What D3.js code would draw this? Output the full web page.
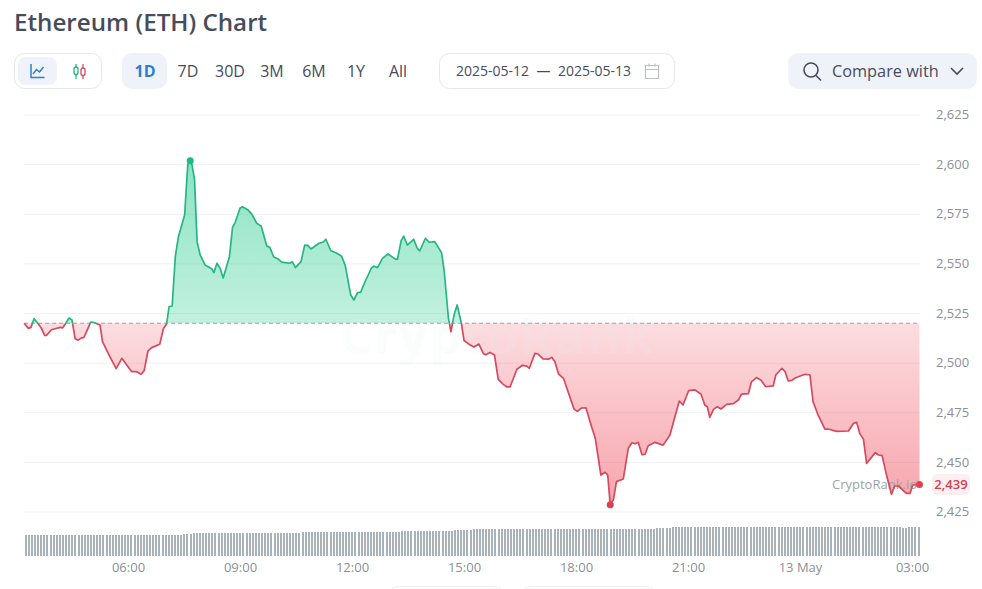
<!DOCTYPE html>
<html><head><meta charset="utf-8">
<style>
html,body{margin:0;padding:0;background:#fff;overflow:hidden}
svg{display:block}
text{font-family:"Open Sans","Noto Sans",sans-serif}
.axis path,.axis line{display:none}
</style>
<script src="https://cdn.jsdelivr.net/npm/d3@7"></script>
</head><body><div id="chart"></div>
<script>
const title="Ethereum (ETH) Chart";
const ranges=["1D","7D","30D","3M","6M","1Y","All"];
const dateFrom="2025-05-12", dateTo="2025-05-13";
const compareLabel="Compare with";
const yTicks=[2425,2450,2475,2500,2525,2550,2575,2600,2625];
const xTickMinutes=[360,540,720,900,1080,1260,1440,1620];
const xTickLabels=["06:00","09:00","12:00","15:00","18:00","21:00","13 May","03:00"];
const basePrice=2520.1, lastPrice=2438.8, lastLabel="2,439";
const maxPoint=[460,2602], minPoint=[1135,2428.7];
// minutes since 2025-05-12 00:00
const minutes=[193,200,204,209,216,221,226,229,237,243,251,255,260,265,270,275,280,285,289,295,300,305,315,319,331,341,350,366,374,381,386,392,398,411,417,422,426,431,436,441,451,456,460,463,467,471,476,484,495,498,503,508,513,523,528,532,540,544,553,559,567,574,583,588,594,602,607,620,624,629,638,644,649,654,667,674,678,686,694,703,709,718,723,729,734,741,751,755,761,769,778,789,793,799,803,809,819,825,829,838,844,853,864,868,875,879,884,889,896,900,910,916,924,931,935,942,949,955,963,969,974,985,994,1001,1005,1014,1019,1027,1036,1041,1046,1052,1060,1070,1077,1082,1089,1096,1105,1111,1120,1127,1131,1135,1140,1145,1156,1164,1170,1175,1180,1186,1191,1196,1207,1220,1231,1239,1246,1252,1261,1271,1281,1287,1291,1295,1301,1307,1313,1322,1333,1341,1346,1357,1362,1370,1377,1385,1397,1401,1411,1416,1421,1427,1432,1448,1456,1461,1469,1480,1485,1499,1518,1526,1531,1536,1542,1547,1561,1566,1572,1579,1587,1592,1598,1611,1617,1621,1632];
const prices=[2520.1,2517.5,2518,2522.4,2519.7,2517.5,2514,2514,2516.8,2517.3,2518,2517.8,2520.1,2522.7,2521.7,2512.3,2511.6,2512.7,2512.8,2517,2520.7,2520.5,2519.2,2510.8,2503.2,2497.2,2502.4,2495.7,2495.7,2494.4,2496.2,2506,2507.8,2509.5,2517.5,2519.7,2528.4,2528.8,2553.6,2563.7,2574.6,2599.8,2602,2599.8,2592.3,2561.2,2554.5,2549.4,2547.4,2545.6,2550.3,2547.8,2542.9,2553.6,2568.4,2570.7,2578,2578.8,2577.1,2575.1,2570.4,2569.1,2559,2558.3,2553.6,2552.3,2550.9,2550.3,2551.1,2548.1,2551.1,2559.4,2559.3,2557.5,2560.4,2561,2562.4,2556.6,2555.6,2554,2549.4,2534.3,2531.8,2535.5,2535.8,2541,2547.8,2548.9,2548.1,2552.8,2555,2552.5,2552.3,2561.7,2564,2559.5,2562.4,2557.8,2556.6,2562.9,2560.9,2561.2,2555.6,2546.9,2522.6,2515.8,2524.2,2529.3,2519.7,2511.4,2509.1,2508.1,2509.6,2504.9,2504.2,2505.4,2504.1,2491.8,2489.3,2488,2488,2496.9,2498.9,2498.5,2497.4,2504.9,2504.6,2502.1,2502,2502.9,2500.7,2494.5,2492.3,2483.1,2476.7,2475.7,2477.4,2477.5,2468,2462.1,2443.6,2445,2443.6,2428.7,2431,2440.3,2441.6,2457.1,2459.9,2459.4,2460.1,2453.9,2454.1,2458.4,2460.1,2458.7,2463.8,2473,2480.9,2478.9,2486.1,2486.5,2484.3,2478.9,2478,2472.7,2476.7,2478,2476.9,2479.2,2479.6,2481.4,2484.4,2484.6,2490.6,2492.7,2491.5,2488.1,2488.5,2494,2497.4,2495.7,2491.1,2491.3,2492.5,2494.4,2494,2480.6,2473.9,2466.8,2466.8,2465.6,2465.8,2469.7,2470.2,2464.6,2461.6,2449.5,2454.9,2453.7,2453.4,2443.6,2433.9,2438.1,2438.1,2434.4,2434.4,2438.6,2438.8];
// five-minute volume bars
const volumeStart=194, volumeStep=5;
const volumes=[
21.5,21.5,21.5,21.5,21.5,21.5,21.5,21.5,21.5,21.5,21.5,21.5,
21.5,21.5,21.5,21.5,21.5,21.5,21.5,21.5,21.5,21.5,21.5,21.5,
21.5,21.5,21.5,21.5,21.5,21.5,21.5,21.5,21.5,21.5,21.5,21.5,
21.5,21.5,21.5,21.5,21.5,21.5,21.5,21.5,21.5,21.5,21.5,21.5,
21.5,21.5,21.5,22,22.5,22.5,23,23,23.5,23.5,23.5,23.5,
23.5,23.5,23.5,23.5,23.5,23.5,23.5,23.5,23.5,23.5,23.5,23.5,
23.5,23.5,23.5,23.5,23.5,23.5,23.5,23.5,23.5,23.5,23.5,23.5,
23.5,23.5,23.5,23.5,23.5,24,24,24.5,24.5,24.5,24.5,24.5,
24.5,24.5,24.5,24.5,24.5,24.5,24.5,24.5,24.5,24.5,24.5,24.5,
24.5,24.5,24.5,24.5,24.5,24.5,24.5,24.5,24.5,24.5,24.5,24.5,
24.5,25,25,25,25,25,25,25,25,25,25,25,
25.5,25.5,25.5,25.5,25.5,25.5,26.5,26.5,26.5,26.5,26.5,26.5,
27,27.5,27.5,27.5,27.5,27.5,27.5,27.5,27.5,27.5,27.5,27.5,
27.5,27.5,27.5,27.5,27.5,27.5,27.5,27.5,27.5,27.5,27.5,27.5,
27.5,27.5,27.5,27.5,27.5,27.5,27.5,27.5,27.5,27.5,27.5,27.5,
27.5,27.5,27.5,27.5,27.5,27.5,27.5,27.5,27.5,27.5,27.5,27.5,
27.5,27.5,27.5,27.5,27.5,27.5,27.5,27.5,27.5,27.5,27.5,28,
28,28,28,28,29,29,29,29,29,29,29,29,
29,29,29,29,29,29,29,29,29,29,29,29,
29,29,29,29,29,29,29,29,29,29,29,29,
29,29,29,29,29,29,29,29,29,29,29,29,
29,29,29,29,29,29,29,29,29,29,29,29,
29,29,29,29,29,29,29,29,29,29,29,29,
29,29,29,29,29,29,28.5,28.5,29,29,29,29];

const W=982,H=589;
const svg=d3.select("#chart").append("svg").attr("width",W).attr("height",H);
const x=d3.scaleLinear().domain([360,1620]).range([128,912]);
const y=d3.scaleLinear().domain([2425,2625]).range([512,115]);
const v=d3.scaleLinear().domain([0,30]).range([556,526]);
const data=minutes.map((m,i)=>({m,p:prices[i]}));
const ink="#464c5c", blue="#2b80d6", panel="#eff3f9", edge="#e5e7eb";
const green="#27b585", red="#d64a5e";

// ---- header
svg.append("text").attr("x",14).attr("y",31).attr("font-size",24.2).attr("font-weight",600).attr("fill",ink).text(title);
function box(x0,y0,w,h,r,fill,stroke){return svg.append("rect").attr("x",x0).attr("y",y0).attr("width",w).attr("height",h).attr("rx",r).attr("fill",fill).attr("stroke",stroke||"none");}
box(14.5,53.5,87,35,10,"#fff",edge);
box(18,57,39,28,8,panel);
svg.append("path").attr("d","M31 64V77.5H44.5M33 74l3.5-4.5 3 2.5 4-5").attr("fill","none").attr("stroke",blue).attr("stroke-width",1.5);
svg.append("path").attr("d","M76 64V79").attr("stroke","#1fb582").attr("stroke-width",1.3);
svg.append("rect").attr("x",74).attr("y",67).attr("width",4).attr("height",7.5).attr("rx",2).attr("fill","#fff").attr("stroke","#1fb582").attr("stroke-width",1.3);
svg.append("path").attr("d","M83 64V79").attr("stroke",red).attr("stroke-width",1.3);
svg.append("rect").attr("x",81).attr("y",68).attr("width",4).attr("height",7.5).attr("rx",2).attr("fill","#fff").attr("stroke",red).attr("stroke-width",1.3);
box(122,53,45,36,10,panel);
const rangeX=[145,188,230,272,314,356,398];
svg.selectAll(".rng").data(ranges).join("text").attr("class","rng")
 .attr("x",(d,i)=>rangeX[i]).attr("y",77).attr("text-anchor","middle").attr("font-size",16)
 .attr("font-weight",(d,i)=>i?400:700).attr("fill",(d,i)=>i?ink:blue).text(d=>d);
box(439.5,53.5,235,35,10,"#fff",edge);
svg.append("text").attr("x",456).attr("y",76).attr("font-size",14).attr("fill",ink).text(dateFrom);
svg.append("text").attr("x",543.5).attr("y",76).attr("text-anchor","middle").attr("font-size",14).attr("fill",ink).text("—");
svg.append("text").attr("x",558).attr("y",76).attr("font-size",14).attr("fill",ink).text(dateTo);
svg.append("path").attr("d","M645.5 65.5h13v13h-13zM645.5 69.5h13M649 63.5v3M655 63.5v3").attr("fill","none").attr("stroke","#bcc0c6").attr("stroke-width",1.2);
box(788,53,189,36,10,panel);
svg.append("circle").attr("cx",811).attr("cy",70).attr("r",7).attr("fill","none").attr("stroke",ink).attr("stroke-width",1.6);
svg.append("path").attr("d","M816 75.5L821 80.5").attr("stroke",ink).attr("stroke-width",1.6);
svg.append("text").attr("x",832).attr("y",77).attr("font-size",16.3).attr("fill",ink).text(compareLabel);
svg.append("path").attr("d","M951 68l6 6 6-6").attr("fill","none").attr("stroke",ink).attr("stroke-width",1.6);

// ---- grid & axes
svg.append("g").selectAll("line").data(yTicks).join("line")
 .attr("x1",x(193)).attr("x2",920).attr("y1",d=>y(d)).attr("y2",d=>y(d)).attr("stroke","#f0f1f3");
const yAxis=d3.axisRight(y).tickValues(yTicks).tickSize(0).tickPadding(0).tickFormat(d3.format(","));
svg.append("g").attr("class","axis").attr("transform","translate(936,-0.5)").call(yAxis)
 .call(g=>g.selectAll("text").attr("font-size",13).attr("fill","#8b9098").style("font-family",'"Open Sans"'));
const xAxis=d3.axisBottom(x).tickValues(xTickMinutes).tickSize(0).tickPadding(0).tickFormat((d,i)=>xTickLabels[i]);
svg.append("g").attr("class","axis").attr("transform","translate(0,562.5)").call(xAxis)
 .call(g=>g.selectAll("text").attr("font-size",13).attr("fill","#8b9098").style("font-family",'"Open Sans"'));

// ---- gradients and clips
const defs=svg.append("defs");
function grad(id,y1,y2,color,o1,o2){
 const g=defs.append("linearGradient").attr("id",id).attr("gradientUnits","userSpaceOnUse").attr("x1",0).attr("x2",0).attr("y1",y1).attr("y2",y2);
 g.append("stop").attr("offset",0).attr("stop-color",color).attr("stop-opacity",o1);
 g.append("stop").attr("offset",1).attr("stop-color",color).attr("stop-opacity",o2);
}
const by=y(basePrice);
grad("gUp",y(maxPoint[1]),by,"#20c98b",.52,.27);
grad("gDown",by,y(minPoint[1]),"#ee3f50",.18,.47);
defs.append("clipPath").attr("id","cUp").append("rect").attr("x",0).attr("y",0).attr("width",W).attr("height",by);
defs.append("clipPath").attr("id","cDown").append("rect").attr("x",0).attr("y",by).attr("width",W).attr("height",H-by);

const area=d3.area().x(d=>x(d.m)).y0(by).y1(d=>y(d.p));
const line=d3.line().x(d=>x(d.m)).y(d=>y(d.p));
svg.append("path").datum(data).attr("d",area).attr("fill","url(#gUp)").attr("clip-path","url(#cUp)");
svg.append("path").datum(data).attr("d",area).attr("fill","url(#gDown)").attr("clip-path","url(#cDown)");
svg.append("text").attr("x",340).attr("y",354).attr("font-size",51).attr("font-weight",700).attr("letter-spacing",1.5).attr("fill","#e9edf2").attr("opacity",.16).text("CryptoRank");
svg.append("line").attr("x1",x(193)).attr("x2",920).attr("y1",by).attr("y2",by).attr("stroke","#9a9fa6").attr("stroke-dasharray","4 3");
svg.append("text").attr("x",917).attr("y",489).attr("text-anchor","end").attr("font-size",13).attr("fill","#9ea3a9").text("CryptoRank.io");
svg.append("path").datum(data).attr("d",line).attr("fill","none").attr("stroke",green).attr("stroke-width",1.7).attr("stroke-linejoin","round").attr("clip-path","url(#cUp)");
svg.append("path").datum(data).attr("d",line).attr("fill","none").attr("stroke",red).attr("stroke-width",1.7).attr("stroke-linejoin","round").attr("clip-path","url(#cDown)");
svg.append("circle").attr("cx",x(maxPoint[0])).attr("cy",y(maxPoint[1])).attr("r",3.5).attr("fill","#1cbb85");
svg.append("circle").attr("cx",x(minPoint[0])).attr("cy",y(minPoint[1])).attr("r",3.5).attr("fill","#dc4054");
svg.append("circle").attr("cx",x(1632)).attr("cy",y(lastPrice)).attr("r",3.5).attr("fill","#e2404f");

// ---- last price tag
box(932,474,38,21,5,"#fdeff1");
svg.append("text").attr("x",951).attr("y",489).attr("text-anchor","middle").attr("font-size",13).attr("font-weight",600).attr("fill","#d6404f").text(lastLabel);

// ---- volume
svg.append("g").attr("shape-rendering","crispEdges").selectAll("rect").data(volumes).join("rect")
 .attr("x",(d,i)=>x(volumeStart+i*volumeStep)).attr("width",2)
 .attr("y",d=>v(d)).attr("height",d=>v(0)-v(d)).attr("fill","#a9b1b9");

// ---- clipped controls at the page foot
box(390.5,586.5,112,12,8,"#fff","#eef0f2");
box(523.5,586.5,131,12,8,"#fff","#eef0f2");
</script></body></html>
